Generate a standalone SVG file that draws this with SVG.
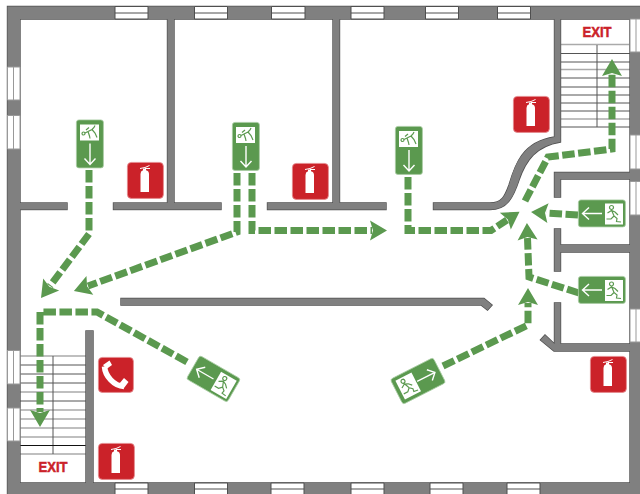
<svg xmlns="http://www.w3.org/2000/svg" xmlns:xlink="http://www.w3.org/1999/xlink" width="640" height="494" viewBox="0 0 640 494">
<style>
.win{fill:#fff;stroke:#4f4f4f;stroke-width:1}
.winl{stroke:#4f4f4f;stroke-width:1;fill:none}
.tr{stroke:#555;stroke-width:1;fill:none}
.trg{stroke:#aaa;stroke-width:1.6;fill:none}
.route{fill:none;stroke:#5b994f;stroke-width:7;stroke-dasharray:12.5 3.5}
.sign{fill:#5b994f;stroke:#a9cda3;stroke-width:.8}
.ar{fill:none;stroke:#fff;stroke-width:1.4}
.fig{fill:none;stroke:#5b994f;stroke-width:1.2}
.red{fill:#cb2229;stroke:#e58a8e;stroke-width:.8}
.exit{font-family:"Liberation Sans",Arial,sans-serif;font-weight:700;font-size:14.5px;fill:#cb2229;stroke:#cb2229;stroke-width:.5;text-anchor:middle}
</style>
<defs>
<marker id="head" markerUnits="userSpaceOnUse" markerWidth="24" markerHeight="24" refX="2" refY="12" orient="auto" overflow="visible">
<path d="M0,2 L17,12 L0,22 L3,12Z" fill="#5b994f"/>
</marker>
<g id="ext">
<rect class="red" x=".4" y=".4" width="36" height="36" rx="4"/>
<path d="M13.500,30 V12 Q13.500,9 16,8.200 V6.500 H19 V8.200 Q22,9 22,12 V30Z" fill="#fff"/>
<path d="M13,6.500 L18,5.500 L22.500,3.500 M18,6.500 L23,6.500" fill="none" stroke="#fff" stroke-width="1"/>
</g>
<g id="runner">
<rect width="18" height="21" fill="#fff"/>
<circle cx="6.500" cy="4" r="2" class="fig"/>
<path class="fig" d="M6.500,6.500 L9,12.500 L12,15 L11.500,18 L16,18.500 M9,12.500 L6,15.500 L1.500,15.500 M2.500,9.500 L6.500,7 L10,8.500 L13,11.500"/>
</g>
<g id="faller">
<rect width="19" height="16" fill="#fff"/>
<circle cx="3.500" cy="9" r="1.500" class="fig"/>
<path class="fig" d="M5,8.500 L12,5 L14,3 L15,1 M12,5 L15,8.500 L17,13 M6,5.500 L9,3 M8,7 L9.500,11.500 L10,14"/>
</g>
<g id="vsign">
<rect class="sign" x=".4" y=".4" width="27" height="48" rx="2.500"/>
<use xlink:href="#faller" x="4" y="5"/>
<path class="ar" d="M14,24 V45 M8.500,39 L14,45 L19.500,39"/>
</g>
<g id="hsign">
<rect class="sign" x=".4" y=".4" width="47" height="27" rx="2.500"/>
<use xlink:href="#runner" x="27" y="4"/>
<path class="ar" d="M24,14 H4.500 M11,8 L4.500,14 L11,20"/>
</g>
<g id="w">
<path fill-rule="evenodd" d="M7.500,6.500 H640 V494 H7.500Z M20,19 V483 H630 V19Z"/>
<rect x="167.500" y="19" width="6.500" height="185"/>
<rect x="333" y="19" width="6.500" height="185"/>
<rect x="20" y="203" width="47" height="6.500"/>
<rect x="113.500" y="203" width="107.500" height="6.500"/>
<path d="M267.500,203 H386 V209.500 H267.500Z"/>
<path d="M433.500,203 H490 C502,203 505,196 509,185 C515,165 522,142 554.500,137 V19 H560.500 V142 C536,146 526,160 519,180 C513,198 507,209.500 490,209.500 H433.500Z"/>
<path d="M630,172.500 H554.500 V197 H560.500 V179 H630Z"/>
<path d="M630,245 H560.500 V229 H554.500 V271 H560.500 V252 H630Z"/>
<path d="M630,344 H560.500 V303 H554.500 V344 L545,335 L540.500,340 L554,351 H630Z"/>
<path d="M121,298.500 H484 L492,305 L487.500,310 L481,305 H121Z"/>
<rect x="86" y="331" width="7" height="152"/>
</g>
</defs>

<rect width="640" height="494" fill="#fff"/>

<g id="stair-top">
<path class="trg" d="M560,44.500 H630 M560,69.500 H630 M560,119 H630 M630,19 V52 M630,135 V169 M630,181 V215 M630,309 V342"/>
<path class="tr" d="M560,53.500 H630 M560,62 H630 M560,78 H630 M560,87 H630 M560,95 H630 M560,103 H630 M560,111 H630 M560,127 H630 M597,45 V127"/>
<text class="exit" x="597" y="37" textLength="29" lengthAdjust="spacingAndGlyphs">EXIT</text>
</g>
<g id="stair-bottom">
<path class="trg" d="M20,356 H86 M20,392 H86 M20,410 H86 M20,419 H86 M20,428 H86 M20,437 H86 M20,454 H86"/>
<path class="tr" d="M20,365 H86 M20,374 H86 M20,383 H86 M20,401 H86 M53,356 V454"/>
<path d="M20,445.500 H86" stroke="#111" stroke-width="1" fill="none"/>
<text class="exit" x="53" y="472" textLength="29" lengthAdjust="spacingAndGlyphs">EXIT</text>
</g>

<g id="walls">
<use xlink:href="#w" fill="#4f4f4f" stroke="#4f4f4f" stroke-width="1.400"/>
<use xlink:href="#w" fill="#808080"/>
</g>

<g id="windows">
<path class="win" d="M115,6.500 H148 V19 H115Z M194.500,6.500 H227.500 V19 H194.500Z M271.500,6.500 H305 V19 H271.500Z M351,6.500 H384 V19 H351Z M425.500,6.500 H458.500 V19 H425.500Z M497.500,6.500 H530.500 V19 H497.500Z"/>
<path class="winl" d="M115,13 H148 M194.500,13 H227.500 M271.500,13 H305 M351,13 H384 M425.500,13 H458.500 M497.500,13 H530.500"/>
<path class="win" d="M115,483 H148 V495 H115Z M194.500,483 H227.500 V495 H194.500Z M271,483 H304 V495 H271Z M351,483 H384 V495 H351Z M430,483 H463 V495 H430Z M507,483 H540 V495 H507Z"/>
<path class="winl" d="M115,489 H148 M194.500,489 H227.500 M271,489 H304 M351,489 H384 M430,489 H463 M507,489 H540"/>
<g fill="#fff" stroke="#999" stroke-width="1">
<path d="M7.500,67 H20 V100 H7.500Z M7.500,115.500 H20 V149 H7.500Z M7.500,350.500 H20 V384 H7.500Z M7.500,408 H20 V441 H7.500Z"/>
<path d="M13.500,67 V100 M13.500,115.500 V149 M13.500,350.500 V384 M13.500,408 V441"/>
<path d="M630,19 H641 V52 H630Z M630,135 H641 V169 H630Z M630,181.500 H641 V215 H630Z M630,309 H641 V342 H630Z"/>
<path d="M636,19 V52 M636,135 V169 M636,181.500 V215 M636,309 V342"/>
</g>
</g>

<g id="connectors">
<path class="route" marker-end="url(#head)" d="M89,170 V234 L50,286"/>
<path class="route" marker-end="url(#head)" d="M237,173 V232 L88,286"/>
<path class="route" marker-end="url(#head)" d="M252,173 V230.500 H372"/>
<path class="route" marker-end="url(#head)" d="M408,177 V230.500 H491 L507,220"/>
<path class="route" marker-end="url(#head)" d="M525,201 L548,157 L612,149 V74"/>
<path class="route" marker-end="url(#head)" d="M578,215 L546,213"/>
<path class="route" marker-end="url(#head)" d="M579,293 L529,277 L527.500,238"/>
<path class="route" marker-end="url(#head)" d="M443,366 L528,325 V303"/>
<path class="route" marker-end="url(#head)" d="M187,362 L97,312 H40 V412"/>
</g>

<g id="sign-1"><use xlink:href="#vsign" x="76" y="119.500"/></g>
<g id="sign-2"><use xlink:href="#vsign" x="232" y="122"/></g>
<g id="sign-3"><use xlink:href="#vsign" x="395" y="126"/></g>
<g id="sign-4"><use xlink:href="#hsign" x="578" y="199.500"/></g>
<g id="sign-5"><use xlink:href="#hsign" x="578" y="276"/></g>
<g id="sign-6"><use xlink:href="#hsign" transform="translate(213.500,379) rotate(30) translate(-24,-14)"/></g>
<g id="sign-7" transform="translate(418,381) rotate(-27)">
<rect class="sign" x="-24" y="-14" width="48" height="28" rx="2.500"/>
<use xlink:href="#runner" x="-20" y="-10.500"/>
<path class="ar" d="M-1,0 H19 M13,-6 L19,0 L13,6"/>
</g>

<g id="ext-1"><use xlink:href="#ext" x="127" y="162"/></g>
<g id="ext-2"><use xlink:href="#ext" x="292" y="163"/></g>
<g id="ext-3"><use xlink:href="#ext" x="513" y="96"/></g>
<g id="ext-4"><use xlink:href="#ext" x="590" y="356"/></g>
<g id="ext-5"><use xlink:href="#ext" x="98" y="443"/></g>
<g id="phone" transform="translate(98,357)">
<rect class="red" x=".4" y=".4" width="35" height="35" rx="4"/>
<path d="M6.500,9.500 C7,19 16,29 26,29.500" fill="none" stroke="#fff" stroke-width="5.500"/>
<path d="M5,8 L11.500,3.500 L14,8 L8.500,12Z M21,27 L26,21 L30.500,25 L26,31Z" fill="#fff"/>
</g>
</svg>
